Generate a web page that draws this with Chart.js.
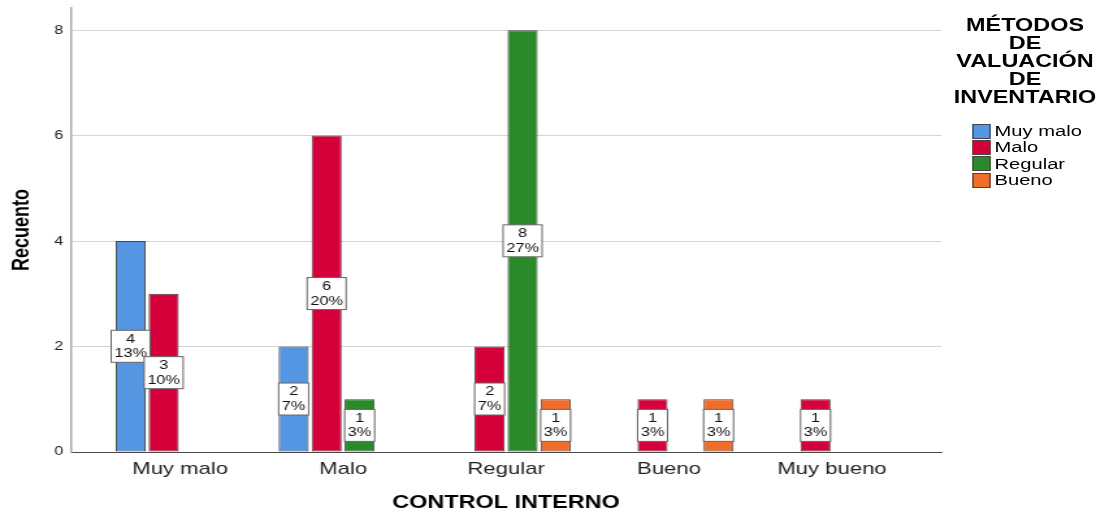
<!DOCTYPE html>
<html>
<head>
<meta charset="utf-8">
<script src="https://cdn.jsdelivr.net/npm/chart.js@4/dist/chart.umd.min.js"></script>
<style>
  html, body { margin: 0; padding: 0; background: #fff; }
  /* el gráfico original está estirado en horizontal: se dibuja angosto y se estira */
  #wrap { position: absolute; left: 0; top: 0; width: 851px; height: 515px;
          transform: scaleX(1.3); transform-origin: 0 0; }
  #chart { position: absolute; left: 0; top: 0; }
  #legend { position: absolute; left: 728px; top: 16px; width: 121px;
            font-family: "Liberation Sans", Arial, sans-serif; color: #000; }
  #legend .title { font-weight: bold; font-size: 18px; line-height: 18px; text-align: center; }
  #legend .items { margin-top: 17px; margin-left: 19.5px; }
  #legend .item { height: 16.3px; display: flex; align-items: center; font-size: 15.5px; }
  #legend .box { width: 12.5px; height: 13px; border: 1px solid #444; margin-right: 3px; flex: none; }
</style>
</head>
<body>
<div id="wrap">
  <canvas id="chart" width="851" height="515"></canvas>
  <div id="legend"></div>
</div>
<script>
// ===== datos =====
const categories = ['Muy malo', 'Malo', 'Regular', 'Bueno', 'Muy bueno'];
const seriesNames = ['Muy malo', 'Malo', 'Regular', 'Bueno'];
const muyMalo = [4, 2, null, null, null];
const malo    = [3, 6, 2, 1, 1];
const regular = [null, 1, 8, null, null];
const bueno   = [null, null, 1, 1, null];
const total = 30;
const yTicks = [0, 2, 4, 6, 8];
const legendTitle = ['MÉTODOS', 'DE', 'VALUACIÓN', 'DE', 'INVENTARIO'];

const colors = ['#5596e3', '#d5003a', '#2a892a', '#f26c2c'];
const FONT = '"Liberation Sans", Arial, sans-serif';

const seriesData = [muyMalo, malo, regular, bueno];

// ===== etiquetas "n / %" dentro de cada barra =====
const boxLabels = {
  id: 'boxLabels',
  afterDatasetsDraw(chart) {
    const ctx = chart.ctx;
    ctx.save();
    ctx.font = '12.5px ' + FONT;
    ctx.textAlign = 'center';
    ctx.textBaseline = 'middle';
    chart.data.datasets.forEach((ds, di) => {
      const meta = chart.getDatasetMeta(di);
      meta.data.forEach((bar, i) => {
        const v = ds.data[i].y;
        if (v === null) return;
        const pct = Math.round(v / total * 100) + '%';
        const w = Math.max(ctx.measureText(String(v)).width, ctx.measureText(pct).width) + 5;
        const h = 32;
        const cy = (bar.y + bar.base) / 2;
        ctx.fillStyle = '#fff';
        ctx.fillRect(bar.x - w / 2, cy - h / 2, w, h);
        ctx.strokeStyle = '#666';
        ctx.lineWidth = 1;
        ctx.strokeRect(bar.x - w / 2, cy - h / 2, w, h);
        ctx.fillStyle = '#111';
        ctx.fillText(String(v), bar.x, cy - 7);
        ctx.fillText(pct, bar.x, cy + 7.5);
      });
    });
    ctx.restore();
  }
};

new Chart(document.getElementById('chart'), {
  type: 'bar',
  data: {
    datasets: seriesNames.map((name, si) => ({
      label: name,
      data: seriesData[si].map((v, i) => ({ x: i, y: v })),
      backgroundColor: colors[si],
      borderColor: '#444',
      borderWidth: 1,
      borderSkipped: false,
      categoryPercentage: 0.81,
      barPercentage: 0.91
    }))
  },
  options: {
    responsive: false,
    animation: false,
    layout: { padding: { top: 8, right: 127, left: 0, bottom: 0 } },
    plugins: { legend: { display: false }, tooltip: { enabled: false } },
    scales: {
      x: {
        type: 'linear',
        offset: false,
        min: -0.67,
        max: 4.67,
        afterBuildTicks: s => { s.ticks = categories.map((c, i) => ({ value: i })); },
        afterFit: s => { s.height = 63; s.paddingLeft = 0; s.paddingRight = 0; },
        grid: { display: false, drawTicks: false },
        border: { display: true, color: '#4a4a4a', width: 1 },
        ticks: {
          autoSkip: false,
          maxRotation: 0,
          padding: 7,
          color: '#222',
          font: { family: FONT, size: 17 },
          callback: v => categories[v]
        },
        title: {
          display: true,
          text: 'CONTROL INTERNO',
          color: '#000',
          font: { family: FONT, size: 18, weight: 'bold' },
          padding: { top: 0, bottom: 1 }
        }
      },
      y: {
        min: 0,
        max: 8.42,
        afterBuildTicks: s => { s.ticks = yTicks.map(v => ({ value: v })); },
        afterFit: s => { s.width = 54.6; s.paddingTop = 0; s.paddingBottom = 0; },
        grid: { color: '#d4d4d4', drawTicks: false },
        border: { color: '#a8a8a8', width: 1.5 },
        ticks: {
          padding: 6,
          color: '#222',
          font: { family: FONT, size: 12.5 }
        },
        title: {
          display: true,
          text: 'Recuento',
          color: '#000',
          font: { family: FONT, size: 18, weight: 'bold' },
          padding: { top: 6, bottom: 0 }
        }
      }
    }
  },
  plugins: [boxLabels]
});

// ===== leyenda =====
const legendEl = document.getElementById('legend');
const titleEl = document.createElement('div');
titleEl.className = 'title';
titleEl.innerHTML = legendTitle.join('<br>');
legendEl.appendChild(titleEl);
const itemsEl = document.createElement('div');
itemsEl.className = 'items';
seriesNames.forEach((name, i) => {
  const row = document.createElement('div');
  row.className = 'item';
  const box = document.createElement('span');
  box.className = 'box';
  box.style.background = colors[i];
  const txt = document.createElement('span');
  txt.textContent = name;
  row.appendChild(box);
  row.appendChild(txt);
  itemsEl.appendChild(row);
});
legendEl.appendChild(itemsEl);
</script>
</body>
</html>
